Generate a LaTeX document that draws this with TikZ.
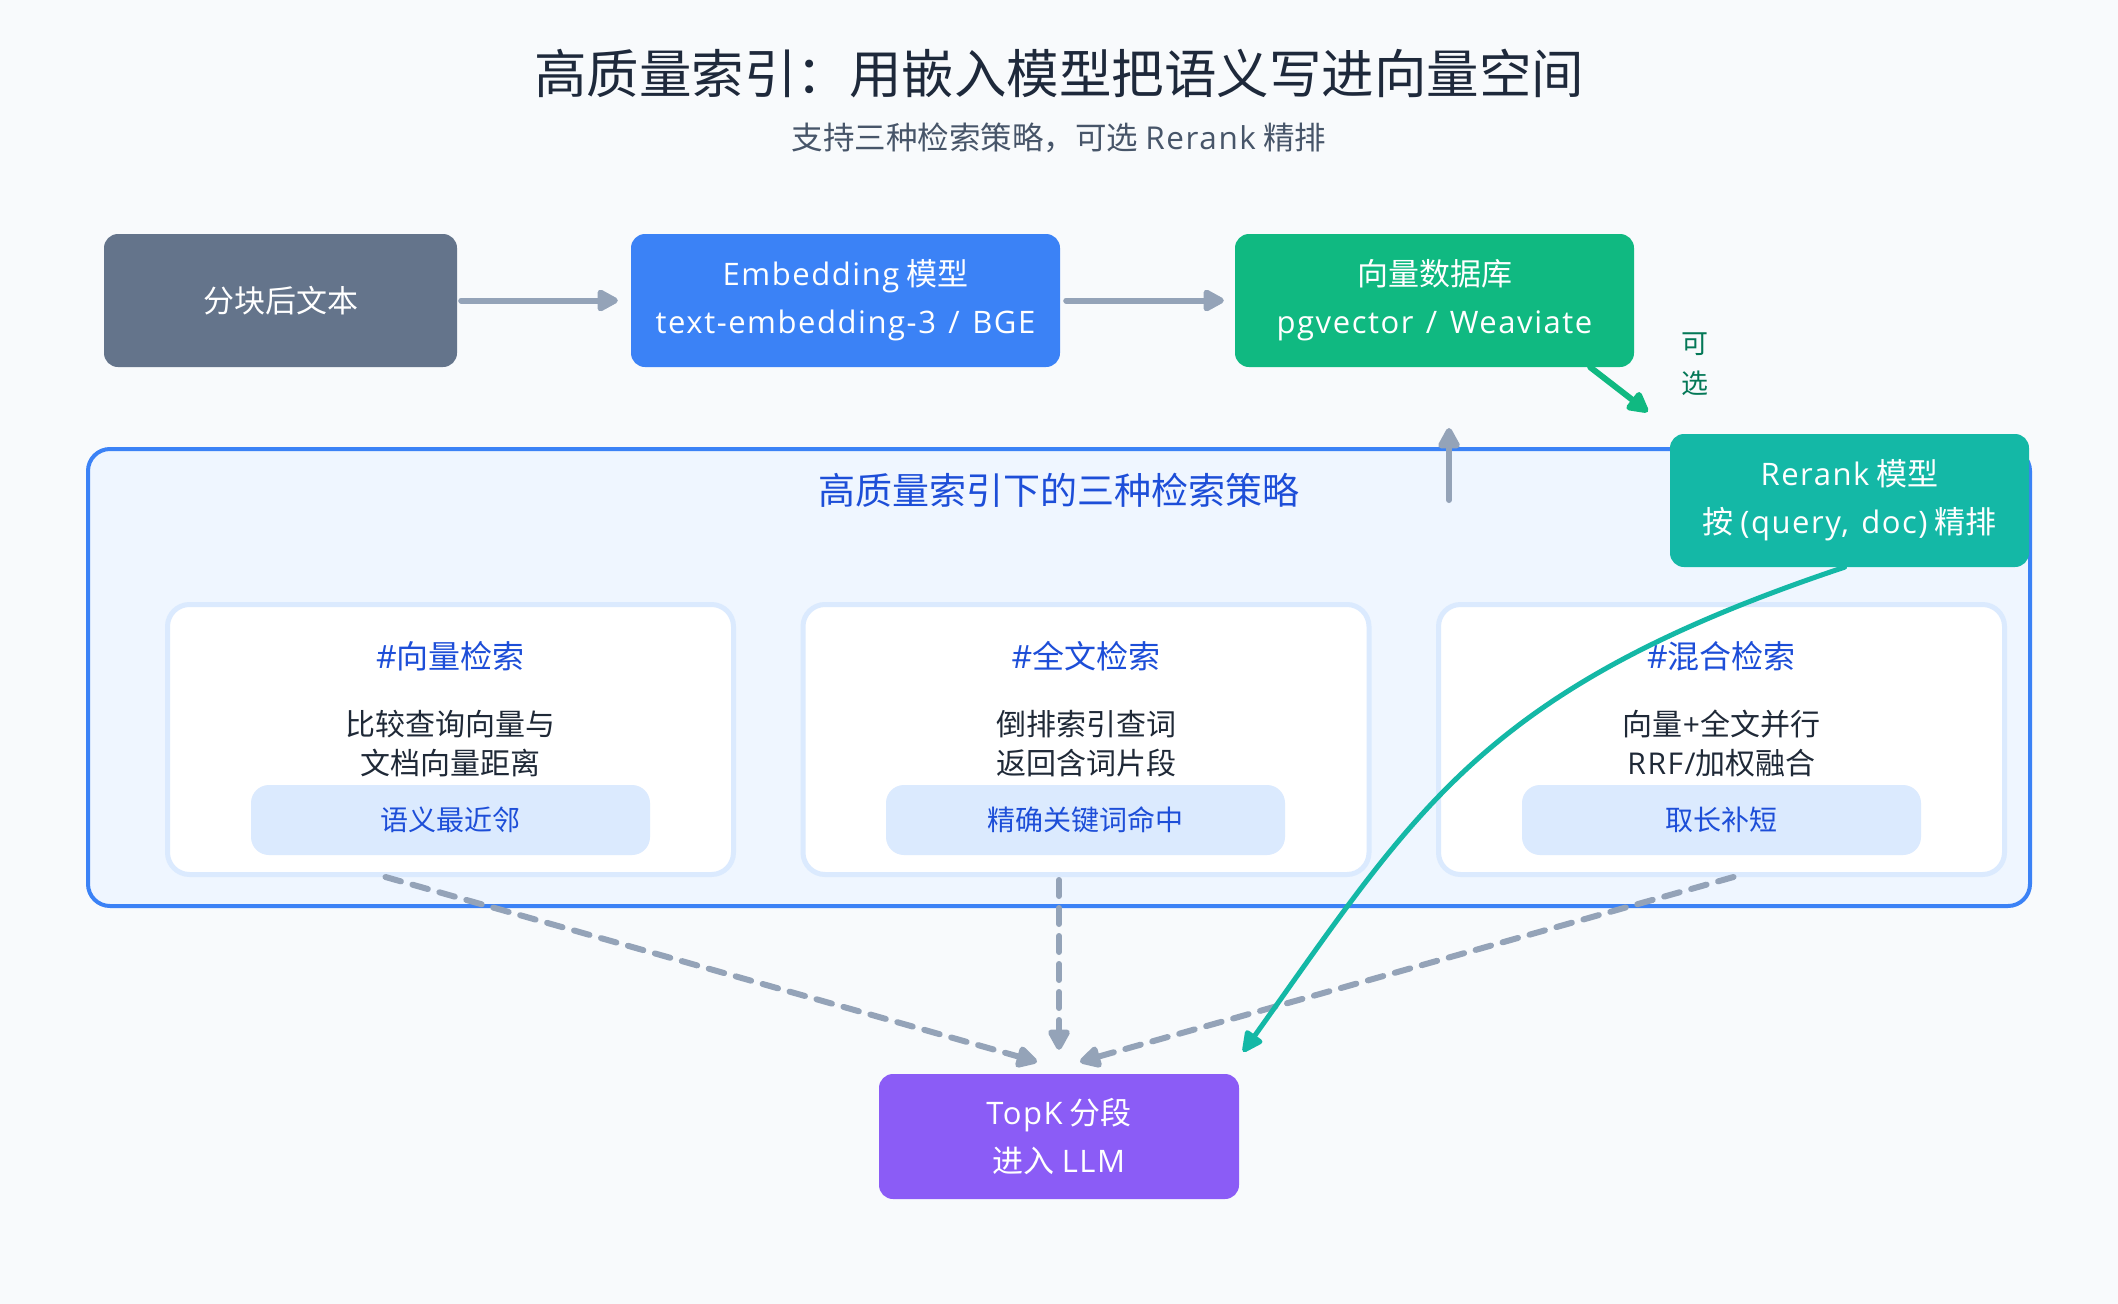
\documentclass[tikz,border=0pt]{standalone}
\usepackage{fontspec}
\setmainfont{Noto Sans CJK SC}
\newfontfamily\lat[LetterSpace=5,WordSpace=1.3]{Open Sans}
\usetikzlibrary{arrows.meta}
\definecolor{bg}{HTML}{F8FAFC}
\definecolor{titlec}{HTML}{1E293B}
\definecolor{subc}{HTML}{475569}
\definecolor{slatebox}{HTML}{64748B}
\definecolor{bluebox}{HTML}{3B82F6}
\definecolor{greenbox}{HTML}{10B981}
\definecolor{tealbox}{HTML}{14B8A6}
\definecolor{purplebox}{HTML}{8B5CF6}
\definecolor{arrgrey}{HTML}{94A3B8}
\definecolor{contfill}{HTML}{EFF6FF}
\definecolor{cardline}{HTML}{DBEAFE}
\definecolor{pillbg}{HTML}{DBEAFE}
\definecolor{hdblue}{HTML}{1D4ED8}
\definecolor{bodyc}{HTML}{1F2937}
\definecolor{optc}{HTML}{047857}
\newcommand\fsz[2]{\fontsize{#1}{#2}\selectfont}
\newcommand\la[1]{{\lat #1}}
\begin{document}
\begin{tikzpicture}[x=1pt,y=-1pt,
  box/.style={rounded corners=14pt, inner sep=0pt, align=center, text=white, font=\fsz{31}{48}},
  card/.style={draw=cardline, line width=5pt, fill=white, rounded corners=22pt, minimum width=566pt, minimum height=270pt, inner sep=0pt},
  pill/.style={fill=pillbg, rounded corners=18pt, minimum width=399pt, minimum height=70pt, inner sep=0pt, text=hdblue, font=\fsz{28}{34}},
  hdr/.style={text=hdblue, font=\fsz{32}{38}, inner sep=0pt},
  body/.style={text=bodyc, font=\fsz{30}{39}, align=center, inner sep=0pt},
  arr/.style={draw=arrgrey, line width=6pt, line cap=round, line join=round, -{Triangle[length=24pt,width=24pt,round]}},
  dasharr/.style={arr, dash pattern=on 16pt off 12pt},
  greenarr/.style={draw=greenbox, line width=6pt, line cap=round, -{Triangle[length=24pt,width=24pt,round]}},
  tealarr/.style={draw=tealbox, line width=5pt, line cap=round, -{Triangle[length=24pt,width=22pt,round]}}
]
\fill[bg] (0,0) rectangle (2118,1304);
\useasboundingbox (0,0) rectangle (2118,1304);

% titles
\node[text=titlec, font=\fsz{52.5}{60}, inner sep=0pt] (title) at (1059,74) {高质量索引：用嵌入模型把语义写进向量空间};
\node[text=subc, font=\fsz{31.5}{36}, inner sep=0pt] (subtitle) at (1059,138) {支持三种检索策略，可选 \la{Rerank} 精排};

% top row
\node[box, fill=slatebox, minimum width=353pt, minimum height=133pt] (b1) at (280.5,300.5) {分块后文本};
\node[box, fill=bluebox, minimum width=429pt, minimum height=133pt] (b2) at (845.5,300.5) {\la{Embedding} 模型\\\la{text-embedding-3 / BGE}};
\node[box, fill=greenbox, minimum width=399pt, minimum height=133pt] (b3) at (1434.5,300.5) {向量数据库\\\la{pgvector / Weaviate}};

% container
\node[draw=bluebox, line width=4pt, fill=contfill, rounded corners=22pt, minimum width=1942pt, minimum height=457pt, inner sep=0pt] (cont) at (1059,677.5) {};
\node[text=hdblue, font=\fsz{37}{44}, inner sep=0pt] (conttitle) at (1059,490) {高质量索引下的三种检索策略};

% cards
\node[card] (c1) at (450.5,739.5) {};
\node[card] (c2) at (1086,739.5) {};
\node[card] (c3) at (1721.5,739.5) {};

\node[hdr] (h1) at (450.5,656) {\la{\#}向量检索};
\node[hdr] (h2) at (1086,656) {\la{\#}全文检索};
\node[hdr] (h3) at (1721.5,656) {\la{\#}混合检索};

\node[body] (t1) at (450.5,743.5) {比较查询向量与\\文档向量距离};
\node[body] (t2) at (1086,743.5) {倒排索引查词\\返回含词片段};
\node[body] (t3) at (1721.5,743.5) {向量\la{+}全文并行\\\la{RRF/}加权融合};

\node[pill] (p1) at (450.5,820) {语义最近邻};
\node[pill] (p2) at (1085.5,820) {精确关键词命中};
\node[pill] (p3) at (1721.5,820) {取长补短};

% rerank
\node[box, fill=tealbox, minimum width=359pt, minimum height=133pt] (rr) at (1849.5,500.5) {\la{Rerank} 模型\\按 \la{(query, doc)} 精排};

% optional label
\node[text=optc, font=\fsz{27}{40}, align=center, inner sep=0pt] (opt) at (1695,364) {可\\选};

% bottom
\node[box, fill=purplebox, minimum width=360pt, minimum height=125pt] (tk) at (1059,1136.5) {\la{TopK} 分段\\进入 \la{LLM}};

% arrows top
\draw[arr, shorten <=4pt, shorten >=13pt] (b1) -- (b2);
\draw[arr, shorten <=6pt, shorten >=11pt] (b2) -- (b3);
\draw[greenarr] ([xshift=-44pt]b3.south east) -- ([xshift=-22pt,yshift=22pt]rr.north west);

% up arrow
\coordinate (upS) at (1449,500);
\coordinate (upE) at (1449,428);
\draw[arr] (upS) -- (upE);

% dashed arrows to TopK
\draw[dasharr] ([xshift=-65pt]c1.south) -- ([xshift=-22pt,yshift=12pt]tk.north);
\draw[dasharr] ([xshift=-27pt,yshift=-3pt]c2.south) -- ([yshift=24pt]tk.north);
\draw[dasharr] ([xshift=12pt]c3.south) -- ([xshift=21pt,yshift=12pt]tk.north);

% rerank curve
\draw[tealarr] ([xshift=-5pt]rr.south) .. controls (1483,688) and (1418,807) .. ([xshift=4pt,yshift=22pt]tk.north east);
\end{tikzpicture}
\end{document}
